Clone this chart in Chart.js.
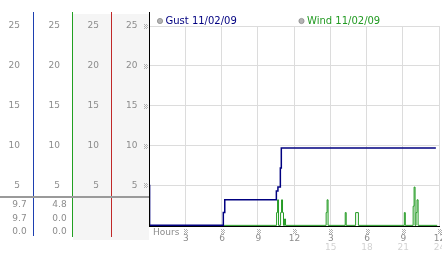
<!DOCTYPE html>
<html>
<head>
<meta charset="utf-8">
<script src="https://cdn.jsdelivr.net/npm/chart.js@4/dist/chart.umd.min.js"></script>
<style>
  html, body { margin: 0; padding: 0; background: #fff; }
  canvas { display: block; }
</style>
</head>
<body>
<canvas id="chart" width="442" height="253"></canvas>
<script>
// gust (stepped readings, hours since midnight)
const gustHours  = [0, 0.05, 6.15, 6.27, 10.54, 10.67, 10.87, 10.95, 23.74];
const gustValues = [5, 0,    1.6,  3.2,  4.3,   4.8,   7.2,   9.7,   9.7];

// wind readings
const windHours  = [6.2, 10.56, 10.64, 10.72, 10.89, 10.97, 11.05, 11.13, 11.22, 11.30,
                    14.66, 14.74, 14.82, 16.24, 16.32, 17.10, 17.33, 21.13, 21.21,
                    21.86, 21.94, 22.02, 22.10, 22.18, 22.27, 23.85];
const windValues = [0, 1.6, 3.2, 0, 1.6, 3.2, 1.6, 0, 0.8, 0,
                    1.6, 3.2, 0, 1.6, 0, 1.6, 0, 1.6, 0,
                    2.4, 4.8, 0, 1.6, 3.2, 0, 0];

const gustStats = ['9.7', '9.7', '0.0'];
const windStats = ['4.8', '0.0', '0.0'];

const yTicks = [5, 10, 15, 20, 25];
const xTicks = [0, 3, 6, 9, 12, 15, 18, 21, 24];
const xLabels = ['Hours', '3', '6', '9', '12', '3', '6', '9', '12'];
const xSubLabels = ['', '', '', '', '', '15', '18', '21', '24'];

const FONT = '9px "DejaVu Sans"';
const GREY = '#8c8c8c';

function toPoints(xs, ys) {
    return xs.map((x, i) => ({ x: x, y: ys[i] }));
}

function marker(ctx, cx, cy) {
    ctx.fillStyle = '#b0b0b0';
    [[-2, -2], [0, -2], [-1, -1], [1, -1], [-2, 0], [0, 0], [-1, 1], [1, 1], [-2, 2], [0, 2]]
        .forEach(p => ctx.fillRect(cx + p[0], cy + p[1], 1, 1));
}

const panelPlugin = {
    id: 'panel',
    beforeDraw(chart) {
        const ctx = chart.ctx;
        ctx.save();
        ctx.fillStyle = '#fff';
        ctx.fillRect(0, 0, chart.width, chart.height);
        ctx.fillStyle = '#f5f5f5';
        ctx.fillRect(73, 14, 76, 226);
        ctx.restore();
    },
    afterDraw(chart) {
        const ctx = chart.ctx;
        const ys = chart.scales.y;
        const xs = chart.scales.x;
        const area = chart.chartArea;
        ctx.save();

        // column separators
        const cols = [[33, '#1d3fb0', 236], [72, '#22a022', 237], [111, '#c02828', 237]];
        cols.forEach(c => {
            ctx.fillStyle = c[1];
            ctx.fillRect(c[0], 12, 1, c[2] - 12);
        });
        ctx.fillStyle = '#000';
        ctx.fillRect(area.left, 12, 1, area.bottom - 12);

        // grey divider above stats
        ctx.fillStyle = '#9a9a9a';
        ctx.fillRect(0, 196, area.left, 2);

        // y labels in each column
        ctx.font = FONT;
        ctx.textBaseline = 'middle';
        ctx.textAlign = 'right';
        const colRight = [20, 60, 99, 137.5];
        yTicks.forEach(v => {
            const y = ys.getPixelForValue(v);
            ctx.fillStyle = GREY;
            colRight.forEach(cx => ctx.fillText(String(v), cx, y));
            marker(ctx, 146, Math.round(y));
        });

        // stats
        ctx.fillStyle = GREY;
        ctx.textAlign = 'center';
        const statY = [205, 218.5, 232];
        gustStats.forEach((s, i) => ctx.fillText(s, 19.5, statY[i]));
        windStats.forEach((s, i) => ctx.fillText(s, 59.5, statY[i]));

        // x labels
        xTicks.forEach((h, i) => {
            const x = xs.getPixelForValue(h);
            if (i === 0) {
                ctx.textAlign = 'left';
                ctx.fillStyle = GREY;
                ctx.fillText(xLabels[i], x + 4, 233);
                return;
            }
            marker(ctx, Math.round(x) + 1, 231);
            ctx.textAlign = 'center';
            ctx.fillStyle = GREY;
            ctx.fillText(xLabels[i], x + 0.5, 239);
            if (xSubLabels[i]) {
                ctx.fillStyle = '#d2d2d2';
                ctx.fillText(xSubLabels[i], x + 0.5, 248);
            }
        });

        // legend
        const legendX = [160, 301.5];
        ctx.font = '10px "DejaVu Sans"';
        ctx.textAlign = 'left';
        chart.data.datasets.forEach((ds, i) => {
            const lx = legendX[i];
            ctx.beginPath();
            ctx.arc(lx, 21, 2.6, 0, Math.PI * 2);
            ctx.fillStyle = '#b4b4b4';
            ctx.fill();
            ctx.strokeStyle = '#8a8a8a';
            ctx.lineWidth = 0.8;
            ctx.stroke();
            ctx.fillStyle = ds.borderColor;
            ctx.fillText(ds.label, lx + 5.5, 21.5);
        });

        ctx.restore();
    }
};

const chart = new Chart(document.getElementById('chart').getContext('2d'), {
    type: 'line',
    data: {
        datasets: [{
            label: 'Gust 11/02/09',
            data: toPoints(gustHours, gustValues),
            borderColor: '#000080',
            borderWidth: 1.5,
            stepped: true,
            pointRadius: 0,
            fill: false
        }, {
            label: 'Wind 11/02/09',
            data: toPoints(windHours, windValues),
            borderColor: '#229a22',
            borderWidth: 1,
            stepped: true,
            pointRadius: 0,
            fill: false
        }]
    },
    options: {
        responsive: false,
        animation: false,
        devicePixelRatio: 1,
        layout: { padding: { top: 26, right: 3, left: 0, bottom: 0 } },
        plugins: { legend: { display: false }, tooltip: { enabled: false } },
        scales: {
            x: {
                type: 'linear',
                min: 0,
                max: 24,
                ticks: { display: false, stepSize: 3 },
                grid: { color: '#dcdcdc', drawTicks: false },
                border: { color: '#000', width: 1 },
                afterFit: s => { s.height = 27; }
            },
            y: {
                min: -0.08,
                max: 25,
                ticks: { display: false, stepSize: 5 },
                grid: { color: '#dcdcdc', drawTicks: false },
                border: { color: '#000', width: 1 },
                afterFit: s => { s.width = 149; }
            }
        }
    },
    plugins: [panelPlugin]
});
</script>
</body>
</html>
